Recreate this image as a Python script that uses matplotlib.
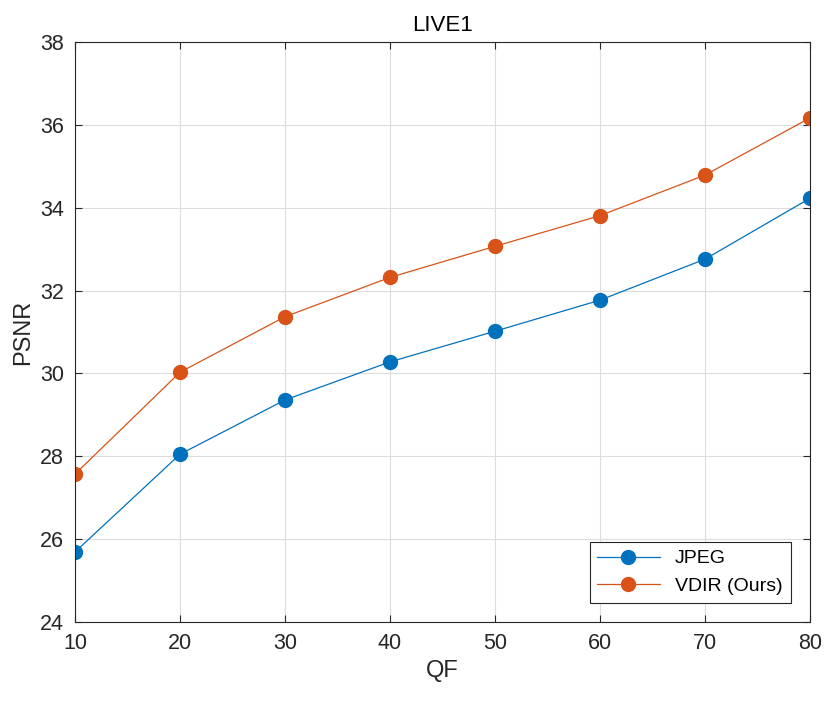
import matplotlib
matplotlib.use('Agg')
import matplotlib.pyplot as plt

plt.rcParams['font.family'] = ['Liberation Sans', 'DejaVu Sans']

# data
qf = [10, 20, 30, 40, 50, 60, 70, 80]
psnr_jpeg = [25.69, 28.05, 29.36, 30.28, 31.02, 31.77, 32.76, 34.23]
psnr_vdir = [27.57, 30.03, 31.37, 32.32, 33.07, 33.81, 34.79, 36.17]

fig = plt.figure(figsize=(8.3, 7.02), dpi=100)
ax = fig.add_axes([0.0904, 0.114, 0.8855, 0.826])

ax.plot(qf, psnr_jpeg, '-o', color='#0072BD', lw=0.9, markersize=10, label='JPEG')
ax.plot(qf, psnr_vdir, '-o', color='#D95319', lw=0.9, markersize=10, label='VDIR (Ours)')

ax.set_xlim(10, 80)
ax.set_ylim(24, 38)
ax.set_xticks(range(10, 81, 10))
ax.set_yticks(range(24, 39, 2))
ax.grid(True, color='#dcdcdc', lw=0.8)
ax.set_axisbelow(True)
ax.tick_params(direction='in', labelsize=15.5, length=5, width=0.8,
               colors='#262626', top=True, right=True, pad=8)
for s in ax.spines.values():
    s.set_color('#262626')
    s.set_linewidth(0.8)

ax.set_xlabel('QF', fontsize=17, color='#262626')
ax.set_ylabel('PSNR', fontsize=17, color='#262626')
ax.set_title('LIVE1', fontsize=16, color='black', pad=8)

leg = ax.legend(loc='lower right', fontsize=14, fancybox=False, edgecolor='#262626',
                handlelength=3.2, borderaxespad=1.0, framealpha=1)
leg.get_frame().set_linewidth(0.8)

fig.savefig('out.png', dpi=100)
